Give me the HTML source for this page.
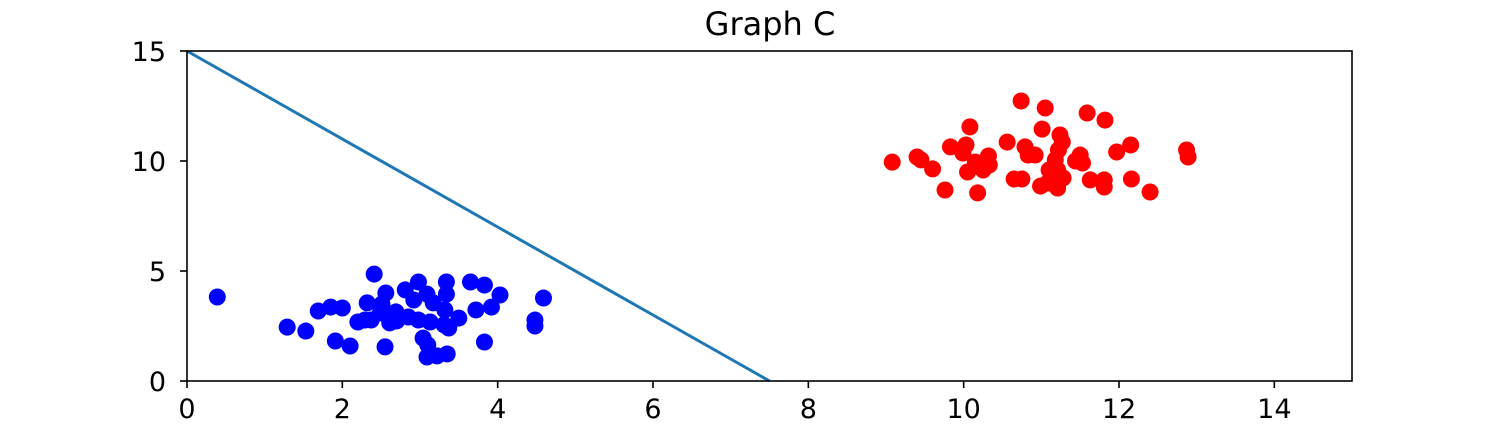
<!DOCTYPE html>
<html><head><meta charset="utf-8"><style>
body{margin:0;background:#fff;width:1502px;height:428px;overflow:hidden}
text{font-family:"DejaVu Sans","Liberation Sans",sans-serif;fill:#000}
</style></head><body>
<svg id="chart" width="1502" height="428" xmlns="http://www.w3.org/2000/svg">
<text x="770" y="35" font-size="32" text-anchor="middle">Graph C</text>
<g id="plot"></g>
<rect x="187" y="51" width="1165" height="330" fill="none" stroke="#000" stroke-width="1.6"/>
</svg>
<script>
const blueX=[0.39,2.41,1.29,1.53,1.69,1.85,2.00,1.91,2.10,2.56,2.32,2.51,2.69,2.20,2.37,2.61,2.55,2.81,2.98,3.09,2.92,3.34,2.98,3.13,2.85,3.04,3.10,3.09,3.22,3.35,3.32,3.31,3.37,3.50,3.65,3.83,3.34,3.72,3.92,4.03,4.48,4.48,4.59,3.83,2.70,3.17,2.49,2.29];
const blueY=[3.82,4.86,2.45,2.27,3.18,3.36,3.32,1.82,1.59,4.0,3.55,3.5,3.14,2.68,2.77,2.64,1.55,4.14,4.5,3.95,3.68,3.95,2.77,2.68,2.91,1.95,1.64,1.09,1.14,1.23,3.23,2.55,2.41,2.86,4.5,4.36,4.5,3.23,3.36,3.91,2.77,2.5,3.77,1.77,2.73,3.55,3.09,2.77];
const redX=[9.08,9.40,9.45,9.60,9.76,9.83,9.99,10.08,10.05,10.03,10.18,10.25,10.15,10.32,10.33,10.56,10.65,10.75,10.74,11.05,10.79,10.83,10.92,10.99,11.08,11.01,11.24,11.22,11.27,11.18,11.21,11.28,11.10,11.13,11.21,11.50,11.44,11.59,11.82,11.63,11.81,11.81,11.97,12.15,12.16,12.40,12.87,12.89,11.53];
const redY=[9.95,10.18,10.05,9.64,8.68,10.64,10.36,11.55,9.5,10.73,8.55,9.59,9.95,10.23,9.82,10.86,9.18,9.18,12.73,12.41,10.64,10.27,10.27,8.86,9.0,11.45,11.18,10.5,10.86,10.05,9.59,9.23,9.59,9.32,8.77,10.27,10.0,12.18,11.86,9.14,9.14,8.82,10.41,10.73,9.18,8.59,10.5,10.18,9.91];
const lineX=[0,7.5];
const lineY=[15,0];
const xTicks=[0,2,4,6,8,10,12,14];
const yTicks=[0,5,10,15];
const NS="http://www.w3.org/2000/svg";
const sx=v=>187+v*(1352-187)/15;
const sy=v=>381-v*(330/15);
const g=document.getElementById('plot');
function mk(t,a){const e=document.createElementNS(NS,t);for(const k in a)e.setAttribute(k,a[k]);g.appendChild(e);return e;}
const ln=mk('line',{x1:sx(lineX[0]),y1:sy(lineY[0]),x2:sx(lineX[1]),y2:sy(lineY[1]),stroke:'#1f77b4','stroke-width':3});


blueX.forEach((x,i)=>{const c=mk('circle',{cx:sx(x),cy:sy(blueY[i]),r:8.5,fill:'#0000ff'});

});
redX.forEach((x,i)=>{const c=mk('circle',{cx:sx(x),cy:sy(redY[i]),r:8.5,fill:'#ff0000'});

});
xTicks.forEach(v=>{mk('line',{x1:sx(v),x2:sx(v),y1:381,y2:388,stroke:'#000','stroke-width':1.6});
const t=mk('text',{x:sx(v),y:418,'font-size':27,'text-anchor':'middle'});t.textContent=v;

});
yTicks.forEach(v=>{mk('line',{x1:180,x2:187,y1:sy(v),y2:sy(v),stroke:'#000','stroke-width':1.6});
const t=mk('text',{x:166,y:sy(v)+10,'font-size':27,'text-anchor':'end'});t.textContent=v;

});
</script>
</body></html>
